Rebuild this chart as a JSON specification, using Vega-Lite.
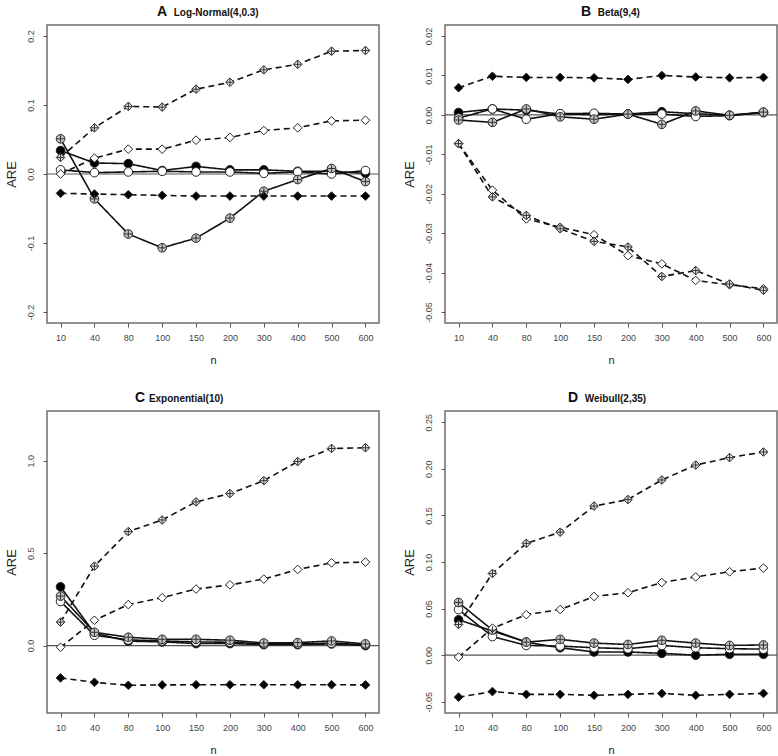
{
  "$schema": "https://vega.github.io/schema/vega-lite/v6.json",
  "padding": {"left": 4, "top": 4, "right": 0, "bottom": 0},
  "background": "white",
  "config": {
    "font": "Liberation Sans",
    "view": {"stroke": "#6e6e6e", "strokeWidth": 1.5},
    "axis": {"grid": false, "domain": false, "tickColor": "#555", "tickSize": 4, "labelColor": "#444", "labelFontSize": 9, "titleFontWeight": "normal", "titleColor": "#222"},
    "title": {"fontSize": 14, "fontWeight": "bold", "color": "#111", "anchor": "start", "frame": "group", "offset": 6, "subtitleFontSize": 10, "subtitleFontWeight": "bold", "subtitleColor": "#111", "subtitlePadding": -11}
  },
  "datasets": {
    "A": [
      {"n":10,"s":"fc","v":0.034},{"n":40,"s":"fc","v":0.016},{"n":80,"s":"fc","v":0.015},{"n":100,"s":"fc","v":0.005},{"n":150,"s":"fc","v":0.011},{"n":200,"s":"fc","v":0.006},{"n":300,"s":"fc","v":0.006},{"n":400,"s":"fc","v":0.004},{"n":500,"s":"fc","v":0.004},{"n":600,"s":"fc","v":0.001},
      {"n":10,"s":"oc","v":0.006},{"n":40,"s":"oc","v":0.002},{"n":80,"s":"oc","v":0.003},{"n":100,"s":"oc","v":0.004},{"n":150,"s":"oc","v":0.003},{"n":200,"s":"oc","v":0.003},{"n":300,"s":"oc","v":0.001},{"n":400,"s":"oc","v":0.003},{"n":500,"s":"oc","v":0.0},{"n":600,"s":"oc","v":0.005},
      {"n":10,"s":"pc","v":0.051},{"n":40,"s":"pc","v":-0.036},{"n":80,"s":"pc","v":-0.087},{"n":100,"s":"pc","v":-0.107},{"n":150,"s":"pc","v":-0.093},{"n":200,"s":"pc","v":-0.064},{"n":300,"s":"pc","v":-0.025},{"n":400,"s":"pc","v":-0.008},{"n":500,"s":"pc","v":0.008},{"n":600,"s":"pc","v":-0.011},
      {"n":10,"s":"fd","v":-0.028},{"n":40,"s":"fd","v":-0.029},{"n":80,"s":"fd","v":-0.030},{"n":100,"s":"fd","v":-0.031},{"n":150,"s":"fd","v":-0.032},{"n":200,"s":"fd","v":-0.032},{"n":300,"s":"fd","v":-0.032},{"n":400,"s":"fd","v":-0.032},{"n":500,"s":"fd","v":-0.032},{"n":600,"s":"fd","v":-0.032},
      {"n":10,"s":"od","v":0.0},{"n":40,"s":"od","v":0.023},{"n":80,"s":"od","v":0.036},{"n":100,"s":"od","v":0.036},{"n":150,"s":"od","v":0.049},{"n":200,"s":"od","v":0.053},{"n":300,"s":"od","v":0.063},{"n":400,"s":"od","v":0.067},{"n":500,"s":"od","v":0.077},{"n":600,"s":"od","v":0.078},
      {"n":10,"s":"pd","v":0.024},{"n":40,"s":"pd","v":0.067},{"n":80,"s":"pd","v":0.098},{"n":100,"s":"pd","v":0.097},{"n":150,"s":"pd","v":0.123},{"n":200,"s":"pd","v":0.133},{"n":300,"s":"pd","v":0.151},{"n":400,"s":"pd","v":0.159},{"n":500,"s":"pd","v":0.178},{"n":600,"s":"pd","v":0.179}
    ],
    "B": [
      {"n":10,"s":"fc","v":0.0006},{"n":40,"s":"fc","v":0.0015},{"n":80,"s":"fc","v":0.0012},{"n":100,"s":"fc","v":0.0002},{"n":150,"s":"fc","v":0.0001},{"n":200,"s":"fc","v":0.0002},{"n":300,"s":"fc","v":0.0008},{"n":400,"s":"fc","v":0.0003},{"n":500,"s":"fc","v":-0.0001},{"n":600,"s":"fc","v":0.0006},
      {"n":10,"s":"oc","v":-0.0008},{"n":40,"s":"oc","v":0.0015},{"n":80,"s":"oc","v":-0.0011},{"n":100,"s":"oc","v":0.0003},{"n":150,"s":"oc","v":0.0004},{"n":200,"s":"oc","v":0.0002},{"n":300,"s":"oc","v":0.0002},{"n":400,"s":"oc","v":-0.0004},{"n":500,"s":"oc","v":-0.0002},{"n":600,"s":"oc","v":0.0006},
      {"n":10,"s":"pc","v":-0.0013},{"n":40,"s":"pc","v":-0.0019},{"n":80,"s":"pc","v":0.0015},{"n":100,"s":"pc","v":-0.0005},{"n":150,"s":"pc","v":-0.0011},{"n":200,"s":"pc","v":0.0002},{"n":300,"s":"pc","v":-0.0024},{"n":400,"s":"pc","v":0.001},{"n":500,"s":"pc","v":-0.0001},{"n":600,"s":"pc","v":0.0007},
      {"n":10,"s":"fd","v":0.0069},{"n":40,"s":"fd","v":0.0098},{"n":80,"s":"fd","v":0.0095},{"n":100,"s":"fd","v":0.0095},{"n":150,"s":"fd","v":0.0094},{"n":200,"s":"fd","v":0.009},{"n":300,"s":"fd","v":0.0100},{"n":400,"s":"fd","v":0.0096},{"n":500,"s":"fd","v":0.0094},{"n":600,"s":"fd","v":0.0095},
      {"n":10,"s":"od","v":-0.0073},{"n":40,"s":"od","v":-0.0191},{"n":80,"s":"od","v":-0.0264},{"n":100,"s":"od","v":-0.0285},{"n":150,"s":"od","v":-0.0304},{"n":200,"s":"od","v":-0.0357},{"n":300,"s":"od","v":-0.0378},{"n":400,"s":"od","v":-0.042},{"n":500,"s":"od","v":-0.0431},{"n":600,"s":"od","v":-0.0441},
      {"n":10,"s":"pd","v":-0.0073},{"n":40,"s":"pd","v":-0.0208},{"n":80,"s":"pd","v":-0.0255},{"n":100,"s":"pd","v":-0.0289},{"n":150,"s":"pd","v":-0.0321},{"n":200,"s":"pd","v":-0.0335},{"n":300,"s":"pd","v":-0.041},{"n":400,"s":"pd","v":-0.0395},{"n":500,"s":"pd","v":-0.0429},{"n":600,"s":"pd","v":-0.0445}
    ],
    "C": [
      {"n":10,"s":"fc","v":0.318},{"n":40,"s":"fc","v":0.067},{"n":80,"s":"fc","v":0.024},{"n":100,"s":"fc","v":0.02},{"n":150,"s":"fc","v":0.011},{"n":200,"s":"fc","v":0.011},{"n":300,"s":"fc","v":0.005},{"n":400,"s":"fc","v":0.005},{"n":500,"s":"fc","v":0.009},{"n":600,"s":"fc","v":0.0},
      {"n":10,"s":"oc","v":0.239},{"n":40,"s":"oc","v":0.056},{"n":80,"s":"oc","v":0.031},{"n":100,"s":"oc","v":0.025},{"n":150,"s":"oc","v":0.02},{"n":200,"s":"oc","v":0.018},{"n":300,"s":"oc","v":0.009},{"n":400,"s":"oc","v":0.009},{"n":500,"s":"oc","v":0.013},{"n":600,"s":"oc","v":0.005},
      {"n":10,"s":"pc","v":0.268},{"n":40,"s":"pc","v":0.072},{"n":80,"s":"pc","v":0.045},{"n":100,"s":"pc","v":0.034},{"n":150,"s":"pc","v":0.034},{"n":200,"s":"pc","v":0.029},{"n":300,"s":"pc","v":0.014},{"n":400,"s":"pc","v":0.016},{"n":500,"s":"pc","v":0.025},{"n":600,"s":"pc","v":0.009},
      {"n":10,"s":"fd","v":-0.175},{"n":40,"s":"fd","v":-0.199},{"n":80,"s":"fd","v":-0.215},{"n":100,"s":"fd","v":-0.213},{"n":150,"s":"fd","v":-0.212},{"n":200,"s":"fd","v":-0.212},{"n":300,"s":"fd","v":-0.212},{"n":400,"s":"fd","v":-0.212},{"n":500,"s":"fd","v":-0.212},{"n":600,"s":"fd","v":-0.213},
      {"n":10,"s":"od","v":-0.009},{"n":40,"s":"od","v":0.137},{"n":80,"s":"od","v":0.222},{"n":100,"s":"od","v":0.259},{"n":150,"s":"od","v":0.306},{"n":200,"s":"od","v":0.329},{"n":300,"s":"od","v":0.36},{"n":400,"s":"od","v":0.412},{"n":500,"s":"od","v":0.448},{"n":600,"s":"od","v":0.452},
      {"n":10,"s":"pd","v":0.127},{"n":40,"s":"pd","v":0.43},{"n":80,"s":"pd","v":0.617},{"n":100,"s":"pd","v":0.68},{"n":150,"s":"pd","v":0.778},{"n":200,"s":"pd","v":0.823},{"n":300,"s":"pd","v":0.893},{"n":400,"s":"pd","v":0.996},{"n":500,"s":"pd","v":1.067},{"n":600,"s":"pd","v":1.071}
    ],
    "D": [
      {"n":10,"s":"fc","v":0.038},{"n":40,"s":"fc","v":0.026},{"n":80,"s":"fc","v":0.014},{"n":100,"s":"fc","v":0.008},{"n":150,"s":"fc","v":0.0035},{"n":200,"s":"fc","v":0.0035},{"n":300,"s":"fc","v":0.002},{"n":400,"s":"fc","v":0.0},{"n":500,"s":"fc","v":0.001},{"n":600,"s":"fc","v":0.001},
      {"n":10,"s":"oc","v":0.049},{"n":40,"s":"oc","v":0.02},{"n":80,"s":"oc","v":0.0105},{"n":100,"s":"oc","v":0.0098},{"n":150,"s":"oc","v":0.008},{"n":200,"s":"oc","v":0.007},{"n":300,"s":"oc","v":0.0105},{"n":400,"s":"oc","v":0.008},{"n":500,"s":"oc","v":0.007},{"n":600,"s":"oc","v":0.0065},
      {"n":10,"s":"pc","v":0.0565},{"n":40,"s":"pc","v":0.027},{"n":80,"s":"pc","v":0.014},{"n":100,"s":"pc","v":0.017},{"n":150,"s":"pc","v":0.013},{"n":200,"s":"pc","v":0.0115},{"n":300,"s":"pc","v":0.016},{"n":400,"s":"pc","v":0.013},{"n":500,"s":"pc","v":0.0105},{"n":600,"s":"pc","v":0.011},
      {"n":10,"s":"fd","v":-0.045},{"n":40,"s":"fd","v":-0.039},{"n":80,"s":"fd","v":-0.042},{"n":100,"s":"fd","v":-0.042},{"n":150,"s":"fd","v":-0.043},{"n":200,"s":"fd","v":-0.042},{"n":300,"s":"fd","v":-0.041},{"n":400,"s":"fd","v":-0.043},{"n":500,"s":"fd","v":-0.042},{"n":600,"s":"fd","v":-0.041},
      {"n":10,"s":"od","v":-0.002},{"n":40,"s":"od","v":0.029},{"n":80,"s":"od","v":0.0435},{"n":100,"s":"od","v":0.049},{"n":150,"s":"od","v":0.063},{"n":200,"s":"od","v":0.067},{"n":300,"s":"od","v":0.078},{"n":400,"s":"od","v":0.084},{"n":500,"s":"od","v":0.0895},{"n":600,"s":"od","v":0.0935},
      {"n":10,"s":"pd","v":0.033},{"n":40,"s":"pd","v":0.0877},{"n":80,"s":"pd","v":0.12},{"n":100,"s":"pd","v":0.132},{"n":150,"s":"pd","v":0.16},{"n":200,"s":"pd","v":0.167},{"n":300,"s":"pd","v":0.188},{"n":400,"s":"pd","v":0.204},{"n":500,"s":"pd","v":0.212},{"n":600,"s":"pd","v":0.218}
    ]
  },
  "columns": 2,
  "spacing": {"column": 21, "row": 24},
  "concat": [
    {
      "title": {"text": "A", "subtitle": "\u200b\u00a0\u00a0\u00a0\u00a0\u00a0\u00a0Log-Normal(4,0.3)", "dx": 110},
      "width": 332, "height": 298,
      "data": {"name": "A"},
      "layer": [
        {"data": {"values": [{"z": 0}]}, "mark": {"type": "rule", "color": "#555", "strokeWidth": 1.2}, "encoding": {"y": {"field": "z", "type": "quantitative"}}},
        {"mark": {"type": "line", "color": "#111", "strokeWidth": 1.6},
         "encoding": {
           "x": {"field": "n", "type": "ordinal", "scale": {"type": "point", "padding": 0.4}, "axis": {"title": "n", "labelAngle": 0, "labelPadding": 6, "titlePadding": 12, "titleFontSize": 11}},
           "y": {"field": "v", "type": "quantitative", "scale": {"domain": [-0.216, 0.216], "nice": false, "zero": false}, "axis": {"title": "ARE", "titleFontSize": 13, "values": [-0.2, -0.1, 0, 0.1, 0.2], "labelExpr": "replace(format(datum.value, '.1f'), '\u2212', '-')", "labelAngle": 270, "labelAlign": "center", "labelBaseline": "bottom", "labelPadding": 8, "titlePadding": 8}},
           "detail": {"field": "s"},
           "strokeDash": {"field": "s", "scale": {"domain": ["fc", "oc", "pc", "fd", "od", "pd"], "range": [[1, 0], [1, 0], [1, 0], [6, 4], [6, 4], [6, 4]]}, "legend": null}
         }},
        {"mark": {"type": "point", "filled": true, "stroke": "#222", "strokeWidth": 1, "opacity": 1},
         "encoding": {
           "x": {"field": "n", "type": "ordinal"},
           "y": {"field": "v", "type": "quantitative"},
           "shape": {"field": "s", "scale": {"domain": ["fc", "oc", "pc", "fd", "od", "pd"], "range": ["circle", "circle", "circle", "diamond", "diamond", "diamond"]}, "legend": null},
           "fill": {"field": "s", "scale": {"domain": ["fc", "oc", "pc", "fd", "od", "pd"], "range": ["#000000", "#ffffff", "#c4c4c4", "#000000", "#ffffff", "#e2e2e2"]}, "legend": null},
           "size": {"field": "s", "scale": {"domain": ["fc", "oc", "pc", "fd", "od", "pd"], "range": [75, 75, 75, 70, 120, 120]}, "legend": null}
         }},
        {"transform": [{"filter": "datum.s == 'pc' || datum.s == 'pd'"}],
         "mark": {"type": "point", "filled": false, "shape": "M-0.85,0L0.85,0M0,-0.85L0,0.85", "stroke": "#333", "strokeWidth": 1, "opacity": 1, "size": 75},
         "encoding": {"x": {"field": "n", "type": "ordinal"}, "y": {"field": "v", "type": "quantitative"}}}
      ]
    },
    {
      "title": {"text": "B", "subtitle": "\u200b\u00a0\u00a0\u00a0\u00a0\u00a0\u00a0Beta(9,4)", "dx": 136},
      "width": 332, "height": 298,
      "data": {"name": "B"},
      "layer": [
        {"data": {"values": [{"z": 0}]}, "mark": {"type": "rule", "color": "#555", "strokeWidth": 1.2}, "encoding": {"y": {"field": "z", "type": "quantitative"}}},
        {"mark": {"type": "line", "color": "#111", "strokeWidth": 1.6},
         "encoding": {
           "x": {"field": "n", "type": "ordinal", "scale": {"type": "point", "padding": 0.4}, "axis": {"title": "n", "labelAngle": 0, "labelPadding": 6, "titlePadding": 12, "titleFontSize": 11}},
           "y": {"field": "v", "type": "quantitative", "scale": {"domain": [-0.0528, 0.0228], "nice": false, "zero": false}, "axis": {"title": "ARE", "titleFontSize": 13, "values": [-0.05, -0.04, -0.03, -0.02, -0.01, 0, 0.01, 0.02], "labelExpr": "replace(format(datum.value, '.2f'), '\u2212', '-')", "labelAngle": 270, "labelAlign": "center", "labelBaseline": "bottom", "labelPadding": 8, "titlePadding": 8}},
           "detail": {"field": "s"},
           "strokeDash": {"field": "s", "scale": {"domain": ["fc", "oc", "pc", "fd", "od", "pd"], "range": [[1, 0], [1, 0], [1, 0], [6, 4], [6, 4], [6, 4]]}, "legend": null}
         }},
        {"mark": {"type": "point", "filled": true, "stroke": "#222", "strokeWidth": 1, "opacity": 1},
         "encoding": {
           "x": {"field": "n", "type": "ordinal"},
           "y": {"field": "v", "type": "quantitative"},
           "shape": {"field": "s", "scale": {"domain": ["fc", "oc", "pc", "fd", "od", "pd"], "range": ["circle", "circle", "circle", "diamond", "diamond", "diamond"]}, "legend": null},
           "fill": {"field": "s", "scale": {"domain": ["fc", "oc", "pc", "fd", "od", "pd"], "range": ["#000000", "#ffffff", "#c4c4c4", "#000000", "#ffffff", "#e2e2e2"]}, "legend": null},
           "size": {"field": "s", "scale": {"domain": ["fc", "oc", "pc", "fd", "od", "pd"], "range": [75, 75, 75, 70, 120, 120]}, "legend": null}
         }},
        {"transform": [{"filter": "datum.s == 'pc' || datum.s == 'pd'"}],
         "mark": {"type": "point", "filled": false, "shape": "M-0.85,0L0.85,0M0,-0.85L0,0.85", "stroke": "#333", "strokeWidth": 1, "opacity": 1, "size": 75},
         "encoding": {"x": {"field": "n", "type": "ordinal"}, "y": {"field": "v", "type": "quantitative"}}}
      ]
    },
    {
      "title": {"text": "C", "subtitle": "\u200b\u00a0\u00a0\u00a0\u00a0\u00a0Exponential(10)", "dx": 88},
      "width": 332, "height": 302,
      "data": {"name": "C"},
      "layer": [
        {"data": {"values": [{"z": 0}]}, "mark": {"type": "rule", "color": "#555", "strokeWidth": 1.2}, "encoding": {"y": {"field": "z", "type": "quantitative"}}},
        {"mark": {"type": "line", "color": "#111", "strokeWidth": 1.6},
         "encoding": {
           "x": {"field": "n", "type": "ordinal", "scale": {"type": "point", "padding": 0.4}, "axis": {"title": "n", "labelAngle": 0, "labelPadding": 6, "titlePadding": 12, "titleFontSize": 11}},
           "y": {"field": "v", "type": "quantitative", "scale": {"domain": [-0.365, 1.27], "nice": false, "zero": false}, "axis": {"title": "ARE", "titleFontSize": 13, "values": [0, 0.5, 1.0], "labelExpr": "replace(format(datum.value, '.1f'), '\u2212', '-')", "labelAngle": 270, "labelAlign": "center", "labelBaseline": "bottom", "labelPadding": 8, "titlePadding": 8}},
           "detail": {"field": "s"},
           "strokeDash": {"field": "s", "scale": {"domain": ["fc", "oc", "pc", "fd", "od", "pd"], "range": [[1, 0], [1, 0], [1, 0], [6, 4], [6, 4], [6, 4]]}, "legend": null}
         }},
        {"mark": {"type": "point", "filled": true, "stroke": "#222", "strokeWidth": 1, "opacity": 1},
         "encoding": {
           "x": {"field": "n", "type": "ordinal"},
           "y": {"field": "v", "type": "quantitative"},
           "shape": {"field": "s", "scale": {"domain": ["fc", "oc", "pc", "fd", "od", "pd"], "range": ["circle", "circle", "circle", "diamond", "diamond", "diamond"]}, "legend": null},
           "fill": {"field": "s", "scale": {"domain": ["fc", "oc", "pc", "fd", "od", "pd"], "range": ["#000000", "#ffffff", "#c4c4c4", "#000000", "#ffffff", "#e2e2e2"]}, "legend": null},
           "size": {"field": "s", "scale": {"domain": ["fc", "oc", "pc", "fd", "od", "pd"], "range": [75, 75, 75, 70, 120, 120]}, "legend": null}
         }},
        {"transform": [{"filter": "datum.s == 'pc' || datum.s == 'pd'"}],
         "mark": {"type": "point", "filled": false, "shape": "M-0.85,0L0.85,0M0,-0.85L0,0.85", "stroke": "#333", "strokeWidth": 1, "opacity": 1, "size": 75},
         "encoding": {"x": {"field": "n", "type": "ordinal"}, "y": {"field": "v", "type": "quantitative"}}}
      ]
    },
    {
      "title": {"text": "D", "subtitle": "\u200b\u00a0\u00a0\u00a0\u00a0\u00a0\u00a0Weibull(2,35)", "dx": 123},
      "width": 332, "height": 302,
      "data": {"name": "D"},
      "layer": [
        {"data": {"values": [{"z": 0}]}, "mark": {"type": "rule", "color": "#555", "strokeWidth": 1.2}, "encoding": {"y": {"field": "z", "type": "quantitative"}}},
        {"mark": {"type": "line", "color": "#111", "strokeWidth": 1.6},
         "encoding": {
           "x": {"field": "n", "type": "ordinal", "scale": {"type": "point", "padding": 0.4}, "axis": {"title": "n", "labelAngle": 0, "labelPadding": 6, "titlePadding": 12, "titleFontSize": 11}},
           "y": {"field": "v", "type": "quantitative", "scale": {"domain": [-0.062, 0.262], "nice": false, "zero": false}, "axis": {"title": "ARE", "titleFontSize": 13, "values": [-0.05, 0, 0.05, 0.1, 0.15, 0.2, 0.25], "labelExpr": "replace(format(datum.value, '.2f'), '\u2212', '-')", "labelAngle": 270, "labelAlign": "center", "labelBaseline": "bottom", "labelPadding": 8, "titlePadding": 8}},
           "detail": {"field": "s"},
           "strokeDash": {"field": "s", "scale": {"domain": ["fc", "oc", "pc", "fd", "od", "pd"], "range": [[1, 0], [1, 0], [1, 0], [6, 4], [6, 4], [6, 4]]}, "legend": null}
         }},
        {"mark": {"type": "point", "filled": true, "stroke": "#222", "strokeWidth": 1, "opacity": 1},
         "encoding": {
           "x": {"field": "n", "type": "ordinal"},
           "y": {"field": "v", "type": "quantitative"},
           "shape": {"field": "s", "scale": {"domain": ["fc", "oc", "pc", "fd", "od", "pd"], "range": ["circle", "circle", "circle", "diamond", "diamond", "diamond"]}, "legend": null},
           "fill": {"field": "s", "scale": {"domain": ["fc", "oc", "pc", "fd", "od", "pd"], "range": ["#000000", "#ffffff", "#c4c4c4", "#000000", "#ffffff", "#e2e2e2"]}, "legend": null},
           "size": {"field": "s", "scale": {"domain": ["fc", "oc", "pc", "fd", "od", "pd"], "range": [75, 75, 75, 70, 120, 120]}, "legend": null}
         }},
        {"transform": [{"filter": "datum.s == 'pc' || datum.s == 'pd'"}],
         "mark": {"type": "point", "filled": false, "shape": "M-0.85,0L0.85,0M0,-0.85L0,0.85", "stroke": "#333", "strokeWidth": 1, "opacity": 1, "size": 75},
         "encoding": {"x": {"field": "n", "type": "ordinal"}, "y": {"field": "v", "type": "quantitative"}}}
      ]
    }
  ]
}
